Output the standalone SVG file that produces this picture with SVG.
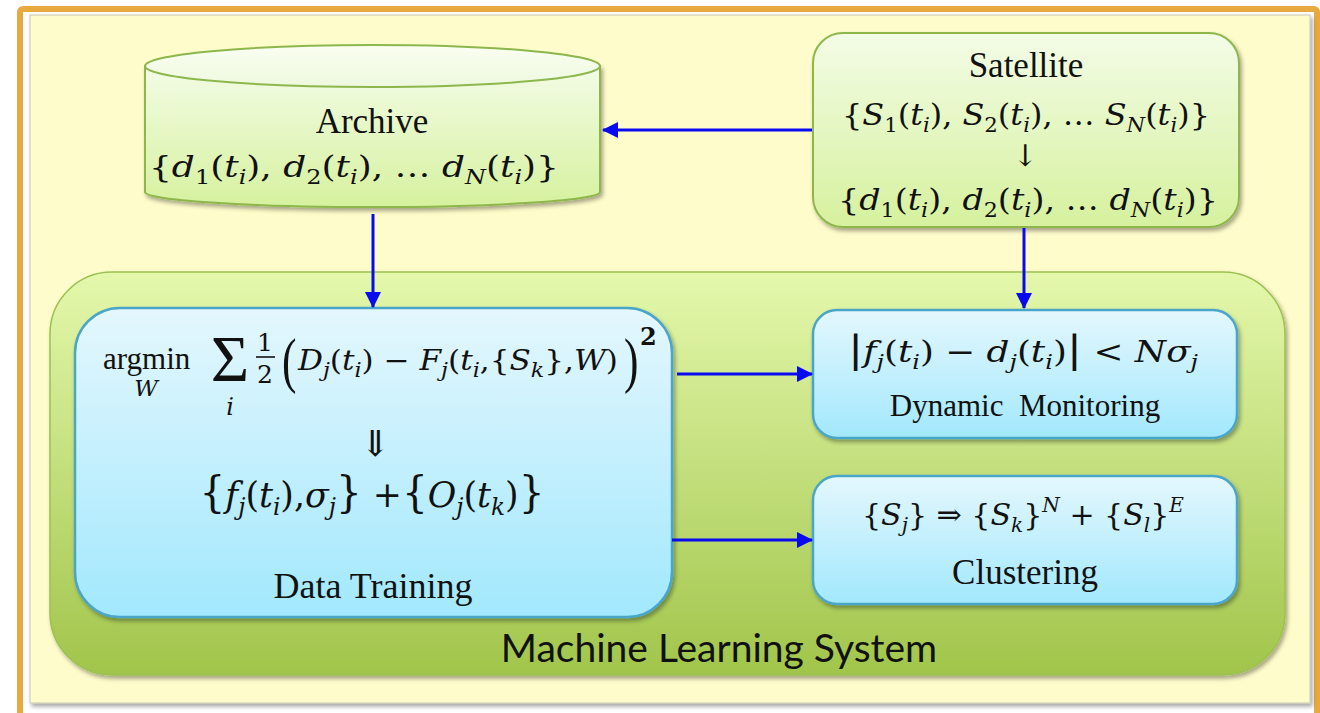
<svg xmlns="http://www.w3.org/2000/svg" width="1320" height="713" viewBox="0 0 1320 713">
  <defs>
    <linearGradient id="gPanel" x1="0" y1="0" x2="0" y2="1">
      <stop offset="0" stop-color="#E4F8AC"/>
      <stop offset="1" stop-color="#A1C54B"/>
    </linearGradient>
    <linearGradient id="gGreen" x1="0" y1="0" x2="0" y2="1">
      <stop offset="0" stop-color="#F3FCE6"/>
      <stop offset="1" stop-color="#D6F19E"/>
    </linearGradient>
    <linearGradient id="gCap" x1="0" y1="0" x2="0" y2="1">
      <stop offset="0" stop-color="#FAFEF2"/>
      <stop offset="1" stop-color="#EEF9DE"/>
    </linearGradient>
    <linearGradient id="gBlue" x1="0" y1="0" x2="0" y2="1">
      <stop offset="0" stop-color="#E4F7FD"/>
      <stop offset="1" stop-color="#A2E8FD"/>
    </linearGradient>
    <filter id="shadow" x="-10%" y="-10%" width="120%" height="130%">
      <feDropShadow dx="2" dy="3" stdDeviation="2.2" flood-color="#000" flood-opacity="0.35"/>
    </filter>
    <marker id="arrow" viewBox="0 0 16 16" refX="15" refY="8" markerWidth="16" markerHeight="16" markerUnits="userSpaceOnUse" orient="auto">
      <path d="M0,0 L16,8 L0,16 Z" fill="#0A0AF0"/>
    </marker>
    <style>
      .lbl { font-family: "Liberation Serif", "Times New Roman", serif; font-size: 35px; fill: #111; text-anchor: middle; }
      .m { font-family: "DejaVu Serif", "Liberation Serif", serif; font-size: 30px; fill: #111; }
      .it { font-style: italic; }
      .sb { font-size: 20px; }
      .conn { stroke: #0A0AF0; stroke-width: 3; fill: none; marker-end: url(#arrow); }
      .grn { fill: url(#gGreen); stroke: #8DB74C; stroke-width: 2; }
      .blu { fill: url(#gBlue); stroke: #4AA6C8; stroke-width: 2.5; }
    </style>
  </defs>

  <!-- page frame -->
  <rect x="0" y="0" width="1320" height="713" fill="#FFFFFF"/>
  <rect x="20" y="9" width="1297" height="720" rx="3" fill="none" stroke="#E8A93E" stroke-width="6"/>
  <rect x="30" y="15" width="1280" height="688" fill="#FFFCCB" stroke="#C9C6B0" stroke-width="1" filter="url(#shadow)"/>

  <!-- Machine Learning System container -->
  <g id="ml-system">
    <rect x="50" y="272" width="1235" height="403" rx="62" fill="url(#gPanel)" stroke="#9CC051" stroke-width="1.5" filter="url(#shadow)"/>
    <text x="719" y="662" font-family="Lato, 'Open Sans', 'Liberation Sans', sans-serif" style="font-size:39px" fill="#111" text-anchor="middle">Machine Learning System</text>
  </g>

  <!-- Archive (cylinder) -->
  <g id="archive">
    <path d="M145,66 L145,192 A227.5,15 0 0 0 600,192 L600,66 Z" class="grn" filter="url(#shadow)"/>
    <ellipse cx="372.5" cy="66" rx="227.5" ry="21" fill="url(#gCap)" stroke="#8DB74C" stroke-width="2"/>
    <text x="372" y="133" class="lbl">Archive</text>
    <text x="354" y="177" class="m" text-anchor="middle" textLength="410" lengthAdjust="spacingAndGlyphs">{<tspan class="it">d</tspan><tspan class="sb" dy="7">1</tspan><tspan dy="-7">(</tspan><tspan class="it">t</tspan><tspan class="sb it" dy="7">i</tspan><tspan dy="-7">), </tspan><tspan class="it">d</tspan><tspan class="sb" dy="7">2</tspan><tspan dy="-7">(</tspan><tspan class="it">t</tspan><tspan class="sb it" dy="7">i</tspan><tspan dy="-7">), … </tspan><tspan class="it">d</tspan><tspan class="sb it" dy="7">N</tspan><tspan dy="-7">(</tspan><tspan class="it">t</tspan><tspan class="sb it" dy="7">i</tspan><tspan dy="-7">)}</tspan></text>
  </g>

  <!-- Satellite -->
  <g id="satellite">
    <rect x="813" y="33" width="426" height="194" rx="30" class="grn" filter="url(#shadow)"/>
    <text x="1026" y="77" class="lbl">Satellite</text>
    <text x="1026" y="125" class="m" text-anchor="middle" textLength="368" lengthAdjust="spacingAndGlyphs">{<tspan class="it">S</tspan><tspan class="sb" dy="7">1</tspan><tspan dy="-7">(</tspan><tspan class="it">t</tspan><tspan class="sb it" dy="7">i</tspan><tspan dy="-7">), </tspan><tspan class="it">S</tspan><tspan class="sb" dy="7">2</tspan><tspan dy="-7">(</tspan><tspan class="it">t</tspan><tspan class="sb it" dy="7">i</tspan><tspan dy="-7">), … </tspan><tspan class="it">S</tspan><tspan class="sb it" dy="7">N</tspan><tspan dy="-7">(</tspan><tspan class="it">t</tspan><tspan class="sb it" dy="7">i</tspan><tspan dy="-7">)}</tspan></text>
    <text x="1025" y="166" class="m" text-anchor="middle" style="font-size:30px">↓</text>
    <text x="1028" y="210" class="m" text-anchor="middle" textLength="380" lengthAdjust="spacingAndGlyphs">{<tspan class="it">d</tspan><tspan class="sb" dy="7">1</tspan><tspan dy="-7">(</tspan><tspan class="it">t</tspan><tspan class="sb it" dy="7">i</tspan><tspan dy="-7">), </tspan><tspan class="it">d</tspan><tspan class="sb" dy="7">2</tspan><tspan dy="-7">(</tspan><tspan class="it">t</tspan><tspan class="sb it" dy="7">i</tspan><tspan dy="-7">), … </tspan><tspan class="it">d</tspan><tspan class="sb it" dy="7">N</tspan><tspan dy="-7">(</tspan><tspan class="it">t</tspan><tspan class="sb it" dy="7">i</tspan><tspan dy="-7">)}</tspan></text>
  </g>

  <!-- Data Training -->
  <g id="data-training">
    <rect x="75" y="308" width="597" height="309" rx="45" class="blu" filter="url(#shadow)"/>
    <text x="103" y="369" class="lbl" style="font-size:31px;text-anchor:start">argmin</text>
    <text x="146" y="396" class="m it" style="font-size:23px" text-anchor="middle">W</text>
    <text x="230" y="381" font-family="Liberation Serif, serif" style="font-size:66px" fill="#111" text-anchor="middle">Σ</text>
    <text x="230" y="415" class="m it" style="font-size:24px" text-anchor="middle">i</text>
    <text x="265" y="351" class="m" style="font-size:25px" text-anchor="middle">1</text>
    <line x1="256" y1="357" x2="275" y2="357" stroke="#111" stroke-width="1.6"/>
    <text x="265" y="383" class="m" style="font-size:25px" text-anchor="middle">2</text>
    <text x="282" y="381" font-family="Liberation Serif, serif" fill="#111" style="font-size:62px" transform="translate(282 381) scale(0.7 1) translate(-282 -381)">(</text>
    <text x="298" y="370" class="m" style="font-size:28px" textLength="320" lengthAdjust="spacingAndGlyphs"><tspan class="it">D</tspan><tspan class="sb it" dy="7">j</tspan><tspan dy="-7">(</tspan><tspan class="it">t</tspan><tspan class="sb it" dy="7">i</tspan><tspan dy="-7">) − </tspan><tspan class="it">F</tspan><tspan class="sb it" dy="7">j</tspan><tspan dy="-7">(</tspan><tspan class="it">t</tspan><tspan class="sb it" dy="7">i</tspan><tspan dy="-7">,{</tspan><tspan class="it">S</tspan><tspan class="sb it" dy="7">k</tspan><tspan dy="-7">},</tspan><tspan class="it">W</tspan><tspan>)</tspan></text>
    <text x="624" y="381" font-family="Liberation Serif, serif" fill="#111" style="font-size:62px" transform="translate(624 381) scale(0.7 1) translate(-624 -381)">)</text>
    <text x="640" y="345" class="m" style="font-size:24px" font-weight="bold">2</text>
    <text x="375" y="456" class="m" style="font-size:36px" text-anchor="middle">⇓</text>
    <text x="372" y="507" class="m" style="font-size:36px" text-anchor="middle" textLength="345" lengthAdjust="spacingAndGlyphs"><tspan style="font-size:42px">{</tspan><tspan class="it">f</tspan><tspan class="it" style="font-size:24px" dy="8">j</tspan><tspan dy="-8">(</tspan><tspan class="it">t</tspan><tspan class="it" style="font-size:24px" dy="8">i</tspan><tspan dy="-8">),</tspan><tspan class="it">σ</tspan><tspan class="it" style="font-size:24px" dy="8">j</tspan><tspan dy="-8" style="font-size:42px">}</tspan><tspan> +</tspan><tspan style="font-size:42px">{</tspan><tspan class="it">O</tspan><tspan class="it" style="font-size:24px" dy="8">j</tspan><tspan dy="-8">(</tspan><tspan class="it">t</tspan><tspan class="it" style="font-size:24px" dy="8">k</tspan><tspan dy="-8">)</tspan><tspan style="font-size:42px">}</tspan></text>
    <text x="373" y="598" class="lbl" style="font-size:36px">Data Training</text>
  </g>

  <!-- Dynamic Monitoring -->
  <g id="dynamic-monitoring">
    <rect x="813" y="310" width="424" height="128" rx="24" class="blu" filter="url(#shadow)"/>
    <text x="1023" y="362" class="m" text-anchor="middle" textLength="350" lengthAdjust="spacingAndGlyphs"><tspan style="font-size:38px">|</tspan><tspan class="it">f</tspan><tspan class="sb it" dy="7">j</tspan><tspan dy="-7">(</tspan><tspan class="it">t</tspan><tspan class="sb it" dy="7">i</tspan><tspan dy="-7">) − </tspan><tspan class="it">d</tspan><tspan class="sb it" dy="7">j</tspan><tspan dy="-7">(</tspan><tspan class="it">t</tspan><tspan class="sb it" dy="7">i</tspan><tspan dy="-7">)</tspan><tspan style="font-size:38px">|</tspan><tspan> &lt; </tspan><tspan class="it">Nσ</tspan><tspan class="sb it" dy="7">j</tspan></text>
    <text x="1025" y="416" class="lbl" style="font-size:31px" xml:space="preserve">Dynamic  Monitoring</text>
  </g>

  <!-- Clustering -->
  <g id="clustering">
    <rect x="813" y="476" width="424" height="128" rx="24" class="blu" filter="url(#shadow)"/>
    <text x="1023" y="525" class="m" text-anchor="middle" textLength="322" lengthAdjust="spacingAndGlyphs">{<tspan class="it">S</tspan><tspan class="sb it" dy="7">j</tspan><tspan dy="-7">} ⇒ {</tspan><tspan class="it">S</tspan><tspan class="sb it" dy="7">k</tspan><tspan dy="-7">}</tspan><tspan class="sb it" dy="-13">N</tspan><tspan dy="13"> + {</tspan><tspan class="it">S</tspan><tspan class="sb it" dy="7">l</tspan><tspan dy="-7">}</tspan><tspan class="sb it" dy="-13">E</tspan></text>
    <text x="1025" y="584" class="lbl" style="font-size:35px">Clustering</text>
  </g>

  <!-- connectors -->
  <g id="connectors">
    <line x1="812" y1="130" x2="603" y2="130" class="conn"/>
    <line x1="373" y1="214" x2="373" y2="307" class="conn"/>
    <line x1="1024" y1="228" x2="1024" y2="308" class="conn"/>
    <line x1="677" y1="374" x2="812" y2="374" class="conn"/>
    <line x1="672" y1="540" x2="812" y2="540" class="conn"/>
  </g>
</svg>
